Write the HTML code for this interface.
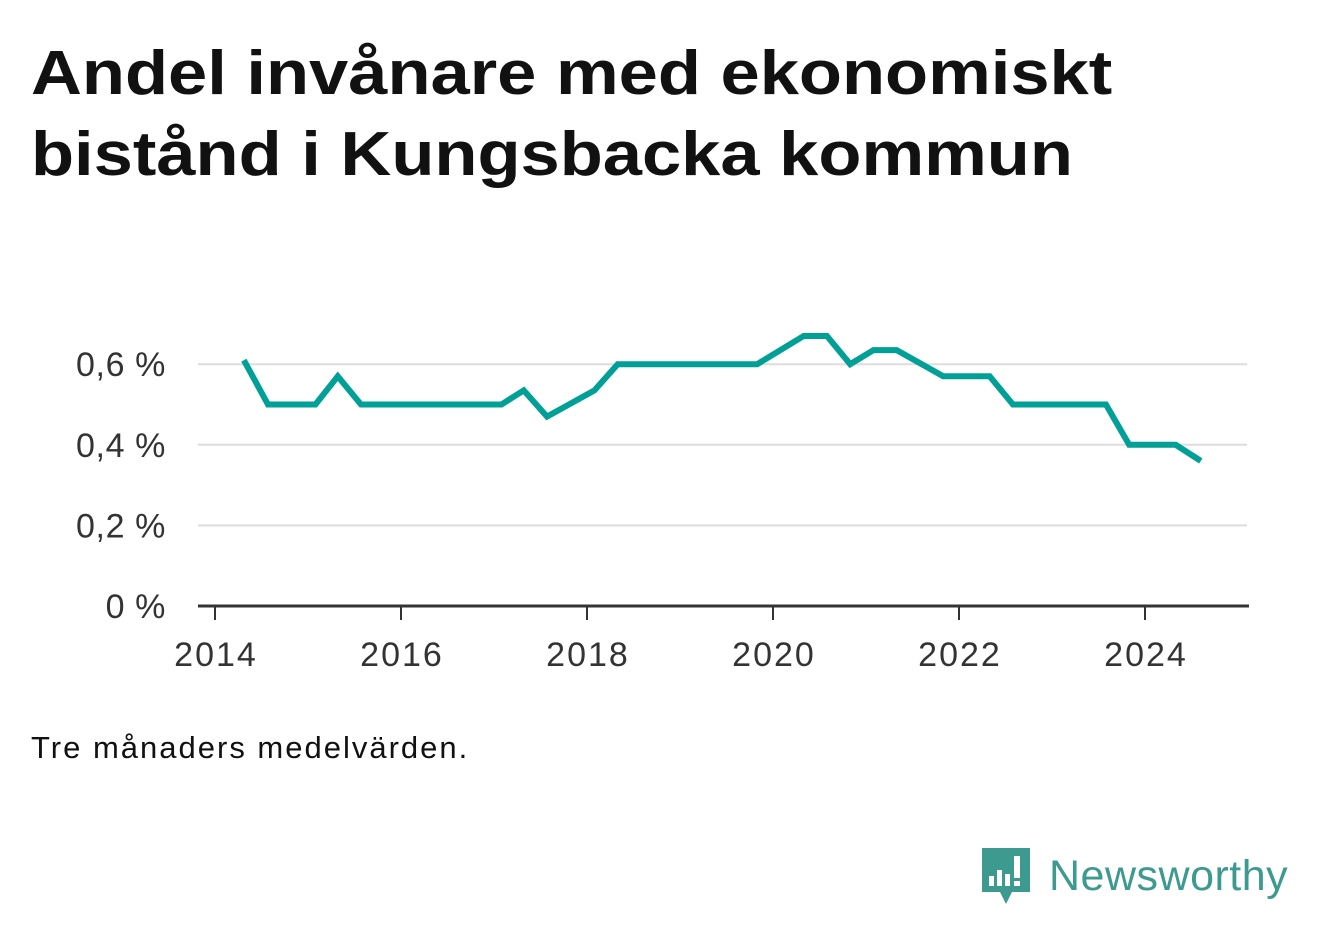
<!DOCTYPE html>
<html><head><meta charset="utf-8"><style>
body{margin:0;width:1322px;height:939px;background:#fff;font-family:"Liberation Sans",sans-serif;overflow:hidden}
h1{position:absolute;left:31px;top:33px;margin:0;font-size:62px;line-height:81px;font-weight:bold;color:#111;transform:scaleX(1.137);transform-origin:left top;white-space:nowrap}
.note{position:absolute;left:31px;top:730px;font-size:31px;color:#111;letter-spacing:2px}
</style></head><body>
<h1>Andel invånare med ekonomiskt<br>bistånd i Kungsbacka kommun</h1>
<svg id="chart" width="1322" height="939" style="position:absolute;left:0;top:0"></svg>
<div class="note">Tre månaders medelvärden.</div>
<div style="position:absolute;left:980px;top:846px;display:flex;align-items:center">
<svg width="52" height="60" viewBox="0 0 52 60"><path d="M2 2h48v44H32l-6 12-6-12H2z" fill="#3d9a8f"/><rect x="9" y="30" width="5" height="10" fill="#fff"/><rect x="17" y="24" width="5" height="16" fill="#fff"/><rect x="25" y="28" width="5" height="12" fill="#fff"/><rect x="34" y="10" width="6" height="22" fill="#fff"/><rect x="34" y="35" width="6" height="5" fill="#fff"/></svg>
<span style="font-size:43px;color:#3d9a8f;margin-left:17px;letter-spacing:0.5px;font-family:'Liberation Sans',sans-serif">Newsworthy</span></div>
<script>
const years=[2014.31,2014.57,2015.08,2015.32,2015.57,2017.08,2017.32,2017.57,2018.08,2018.33,2019.83,2020.33,2020.58,2020.83,2021.08,2021.33,2021.83,2022.33,2022.58,2023.58,2023.83,2024.33,2024.6];
const values=[0.61,0.50,0.50,0.57,0.50,0.50,0.535,0.47,0.535,0.60,0.60,0.67,0.67,0.60,0.635,0.635,0.57,0.57,0.50,0.50,0.40,0.40,0.36];
const yTicks=[0,0.2,0.4,0.6];
const yTickLabels=["0 %","0,2 %","0,4 %","0,6 %"];
const xTicks=[2014,2016,2018,2020,2022,2024];
const svg=document.getElementById('chart');const NS='http://www.w3.org/2000/svg';
const x=v=>215+(v-2014)*93;const y=v=>606-v*403;
function mk(t,a){const e=document.createElementNS(NS,t);for(const k in a)e.setAttribute(k,a[k]);svg.appendChild(e);return e;}
yTicks.forEach((t,i)=>{
 if(t>0){const g=mk('line',{x1:198,x2:1247,y1:y(t),y2:y(t),stroke:'#ddd','stroke-width':2});
 
 }
 const l=mk('text',{x:166,y:y(t)+12,'text-anchor':'end','font-size':34,'letter-spacing':0.6,fill:'#333','font-family':'Liberation Sans, sans-serif'});l.textContent=yTickLabels[i];
 
 
});
const ax=mk('line',{x1:198,x2:1249,y1:606,y2:606,stroke:'#333','stroke-width':3});


xTicks.forEach(t=>{
 const tk=mk('line',{x1:x(t),x2:x(t),y1:606,y2:620,stroke:'#333','stroke-width':2});
 
 
 const l=mk('text',{x:x(t)+1,y:666,'text-anchor':'middle','font-size':34,'letter-spacing':2,fill:'#333','font-family':'Liberation Sans, sans-serif'});l.textContent=t;
 
 
});
const p=mk('polyline',{points:years.map((v,i)=>x(v)+','+y(values[i])).join(' '),fill:'none',stroke:'#00a096','stroke-width':6,'stroke-linejoin':'miter'});


</script>
</body></html>
